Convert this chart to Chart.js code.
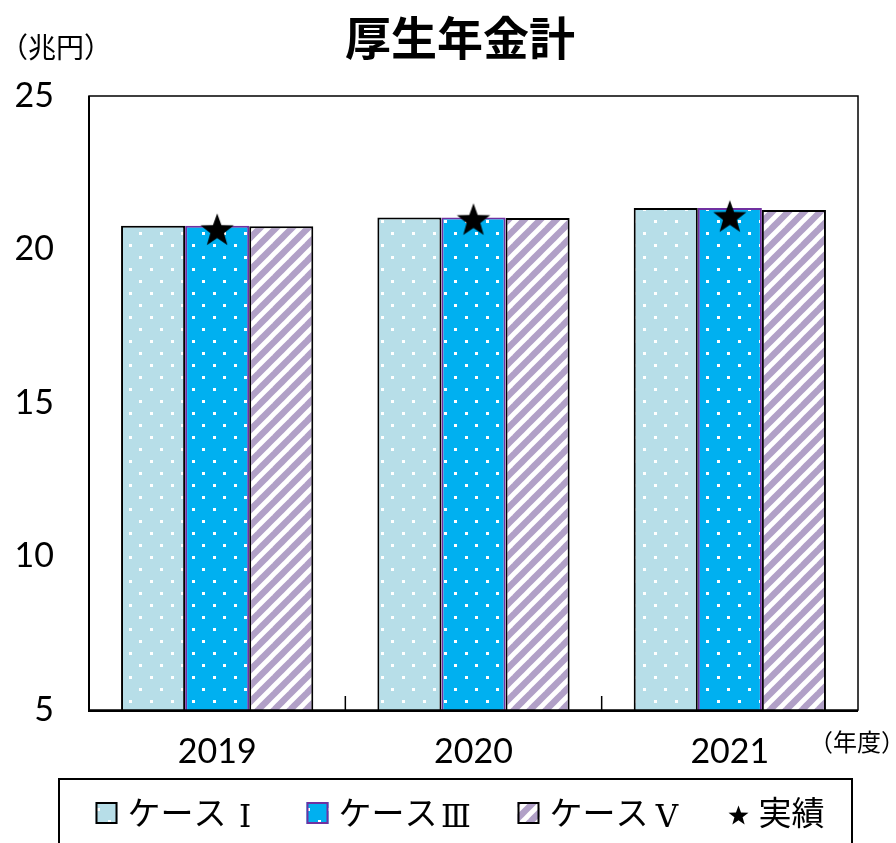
<!DOCTYPE html>
<html><head><meta charset="utf-8">
<script src="https://cdn.jsdelivr.net/npm/chart.js@4.4.1/dist/chart.umd.min.js"></script>
<style>html,body{margin:0;padding:0;background:#fff;overflow:hidden;} #wrap{width:896px;height:843px;position:relative;}</style>
</head><body><div id="wrap"><canvas id="c" width="896" height="843"></canvas></div>
<script>
// ---- data ----
const categories = ['2019', '2020', '2021'];
const caseI = [20.77, 21.04, 21.35];
const caseIII = [20.77, 21.04, 21.35];
const caseV = [20.76, 21.03, 21.29];
const actual = [20.64, 20.97, 21.07];
const seriesLabels = ['ケースⅠ', 'ケースⅢ', 'ケースⅤ', '実績'];
const yTicks = [5, 10, 15, 20, 25];
const titleText = '厚生年金計';
const yUnit = '（兆円）';
const xUnit = '（年度）';

const JP = '"Noto Sans CJK JP", "Noto Sans", sans-serif';
const ROMAN = '"DejaVu Serif", "Liberation Serif", serif';
const NUM = 'Lato, "Open Sans", sans-serif';

function dotPattern(bg) {
  const t = document.createElement('canvas');
  t.width = 21; t.height = 24;
  const g = t.getContext('2d');
  g.fillStyle = bg; g.fillRect(0, 0, 21, 24);
  g.fillStyle = '#ffffff';
  g.fillRect(3, 4, 3, 3);
  g.fillRect(13, 16, 3, 3);
  return g.createPattern(t, 'repeat');
}
function stripePattern(bg) {
  const t = document.createElement('canvas');
  t.width = 16; t.height = 16;
  const g = t.getContext('2d');
  g.fillStyle = bg; g.fillRect(0, 0, 16, 16);
  g.strokeStyle = '#ffffff'; g.lineWidth = 4.8;
  for (const k of [-16, 0, 16]) {
    g.beginPath(); g.moveTo(k - 4, 20); g.lineTo(k + 20, -4); g.stroke();
  }
  return g.createPattern(t, 'repeat');
}
function starPath(ctx, cx, cy, R, r) {
  ctx.beginPath();
  for (let i = 0; i < 10; i++) {
    const rad = i % 2 === 0 ? R : r;
    const a = -Math.PI / 2 + i * Math.PI / 5;
    const x = cx + rad * Math.cos(a), y = cy + rad * Math.sin(a);
    if (i === 0) ctx.moveTo(x, y); else ctx.lineTo(x, y);
  }
  ctx.closePath();
}
const starImg = document.createElement('canvas');
starImg.width = 38; starImg.height = 38;
{ const g = starImg.getContext('2d'); g.fillStyle = '#000'; starPath(g, 19, 20, 17.5, 7.2); g.fill(); }

const ctx = document.getElementById('c').getContext('2d');
const ROMANS = 'ⅠⅡⅢⅣⅤⅥ';
const FS = 33;

function splitLabel(s) {
  const last = s.slice(-1);
  if (ROMANS.includes(last)) return [s.slice(0, -1), last];
  return [s, ''];
}

const decor = {
  id: 'decor',
  afterDraw(chart) {
    const c = chart.ctx, a = chart.chartArea, xs = chart.scales.x;
    c.save();
    // plot box
    c.strokeStyle = '#000'; c.lineWidth = 1.5;
    c.strokeRect(a.left, a.top, a.right - a.left, a.bottom - a.top);
    c.lineWidth = 2;
    c.beginPath(); c.moveTo(a.left, a.top); c.lineTo(a.left, a.bottom + 1); c.lineTo(a.right, a.bottom + 1); c.stroke();
    // between-category ticks
    c.lineWidth = 1.5;
    for (let i = 1; i < categories.length; i++) {
      const x = (xs.getPixelForValue(i - 1) + xs.getPixelForValue(i)) / 2;
      c.beginPath(); c.moveTo(x, a.bottom); c.lineTo(x, a.bottom - 14); c.stroke();
    }
    // title
    c.fillStyle = '#000';
    c.font = 'bold 46px ' + JP; c.textAlign = 'center'; c.textBaseline = 'middle';
    c.fillText(titleText, 460, 38);
    // units
    c.font = '28px ' + JP; c.textAlign = 'left';
    c.fillText(yUnit, 0, 47);
    c.font = '24px ' + JP;
    c.fillText(xUnit, 809, 742);
    // legend box
    c.lineWidth = 2; c.strokeStyle = '#000';
    c.strokeRect(59, 779, 793, 80);
    // legend items
    c.textBaseline = 'middle';
    const ds = chart.data.datasets;
    const gap = 47, boxW = 22, tgap = 10;
    c.font = FS + 'px ' + JP;
    const items = ds.map(d => {
      const [main, rom] = splitLabel(d.label);
      const tw = c.measureText(main).width + (rom ? FS : 0);
      return { d, main, rom, tw, w: (d.type === 'line' ? 20 : boxW) + tgap + tw };
    });
    const total = items.reduce((s, it) => s + it.w, 0) + gap * (items.length - 1);
    let x = 460 - total / 2;
    const cy = 812;
    for (const it of items) {
      const d = it.d;
      if (d.type === 'line') {
        c.fillStyle = '#000'; starPath(c, x + 10, cy + 4, 10.5, 4.3); c.fill();
        x += 20;
      } else {
        c.fillStyle = d.backgroundColor; c.fillRect(x, cy - 10, boxW, boxW);
        c.strokeStyle = d.borderColor; c.lineWidth = 2; c.strokeRect(x + 1, cy - 9, boxW - 2, boxW - 2);
        x += boxW;
      }
      x += tgap;
      c.fillStyle = '#000';
      c.font = FS + 'px ' + JP; c.textAlign = 'left';
      c.fillText(it.main, x, cy);
      const mw = c.measureText(it.main).width;
      if (it.rom) {
        c.font = '31px ' + ROMAN; c.textAlign = 'center';
        c.fillText(it.rom, x + mw + FS / 2 + 2, cy + 7);
      }
      x += it.tw + gap;
    }
    c.restore();
  }
};

const barCommon = { type: 'bar', borderWidth: 2, borderSkipped: false, barPercentage: 1, categoryPercentage: 0.75, order: 1 };

new Chart(ctx, {
  data: {
    labels: categories,
    datasets: [
      Object.assign({ label: seriesLabels[0], data: caseI, backgroundColor: dotPattern('#B7DEE8'), borderColor: '#000000' }, barCommon),
      Object.assign({ label: seriesLabels[1], data: caseIII, backgroundColor: dotPattern('#00B0F0'), borderColor: '#7030A0' }, barCommon),
      Object.assign({ label: seriesLabels[2], data: caseV, backgroundColor: stripePattern('#B1A0C7'), borderColor: '#000000' }, barCommon),
      { type: 'line', label: seriesLabels[3], data: actual, showLine: false, pointStyle: starImg, order: 0 }
    ]
  },
  options: {
    responsive: false, animation: false, devicePixelRatio: 1,
    layout: { padding: { top: 96, right: 38, left: 0, bottom: 0 } },
    plugins: { legend: { display: false }, title: { display: false }, tooltip: { enabled: false } },
    scales: {
      x: {
        grid: { display: false, drawTicks: false },
        border: { display: false },
        ticks: { color: '#000', font: { family: NUM, size: 34 }, padding: 22 },
        afterFit(s) { s.height = 133; }
      },
      y: {
        min: 5, max: 25,
        afterBuildTicks(s) { s.ticks = yTicks.map(v => ({ value: v })); },
        grid: { display: false, drawTicks: false },
        border: { display: false },
        ticks: { color: '#000', font: { family: NUM, size: 34 }, padding: 35 },
        afterFit(s) { s.width = 89; }
      }
    }
  },
  plugins: [decor]
});
</script>
</body></html>
